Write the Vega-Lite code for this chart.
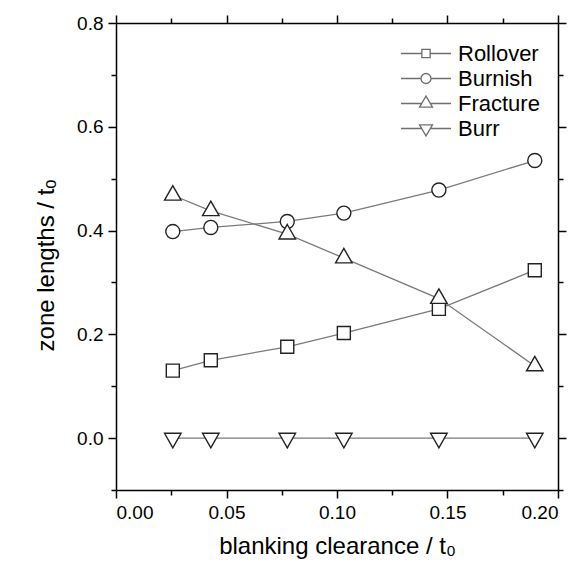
{
  "$schema": "https://vega.github.io/schema/vega-lite/v6.json",
  "width": 442,
  "height": 467,
  "autosize": {"type": "none"},
  "padding": {"left": 116, "top": 23, "right": 29, "bottom": 81},
  "background": "white",
  "config": {
    "view": {"stroke": null},
    "font": "Liberation Sans",
    "axis": {
      "grid": false,
      "domainColor": "black",
      "domainWidth": 1.5,
      "tickColor": "black",
      "tickWidth": 1.5,
      "labelColor": "black",
      "labelFont": "Liberation Sans",
      "labelFontSize": 19,
      "titleFont": "Liberation Sans",
      "titleFontSize": 24,
      "titleFontWeight": "normal",
      "titleColor": "black"
    }
  },
  "data": {
    "values": [
      {"series": "Rollover", "x": 0.0257, "y": 0.130},
      {"series": "Rollover", "x": 0.0429, "y": 0.150},
      {"series": "Rollover", "x": 0.0775, "y": 0.176},
      {"series": "Rollover", "x": 0.1031, "y": 0.2025},
      {"series": "Rollover", "x": 0.1461, "y": 0.249},
      {"series": "Rollover", "x": 0.1895, "y": 0.3236},
      {"series": "Burnish", "x": 0.0257, "y": 0.398},
      {"series": "Burnish", "x": 0.0429, "y": 0.406},
      {"series": "Burnish", "x": 0.0775, "y": 0.4175},
      {"series": "Burnish", "x": 0.1031, "y": 0.4336},
      {"series": "Burnish", "x": 0.1461, "y": 0.478},
      {"series": "Burnish", "x": 0.1895, "y": 0.535},
      {"series": "Fracture", "x": 0.0257, "y": 0.468},
      {"series": "Fracture", "x": 0.0429, "y": 0.438},
      {"series": "Fracture", "x": 0.0775, "y": 0.393},
      {"series": "Fracture", "x": 0.1031, "y": 0.347},
      {"series": "Fracture", "x": 0.1461, "y": 0.269},
      {"series": "Fracture", "x": 0.1895, "y": 0.139},
      {"series": "Burr", "x": 0.0257, "y": 0},
      {"series": "Burr", "x": 0.0429, "y": 0},
      {"series": "Burr", "x": 0.0775, "y": 0},
      {"series": "Burr", "x": 0.1031, "y": 0},
      {"series": "Burr", "x": 0.1461, "y": 0},
      {"series": "Burr", "x": 0.1895, "y": 0}
    ]
  },
  "layer": [
    {
      "mark": {"type": "line", "color": "#7a7a7a", "strokeWidth": 1.3},
      "encoding": {
        "x": {
          "field": "x", "type": "quantitative",
          "scale": {"domain": [0, 0.2], "nice": false, "zero": false},
          "axis": {"orient": "bottom", "values": [0, 0.05, 0.1, 0.15, 0.2], "format": ".2f", "tickSize": 8, "labelPadding": 5, "title": "blanking clearance / t₀", "titlePadding": 12}
        },
        "y": {
          "field": "y", "type": "quantitative",
          "scale": {"domain": [-0.1, 0.8], "nice": false, "zero": false},
          "axis": {"orient": "left", "values": [0, 0.2, 0.4, 0.6, 0.8], "format": ".1f", "tickSize": 8, "labelPadding": 5, "title": "zone lengths / tₒ", "titlePadding": 18, "titleY": 242}
        },
        "detail": {"field": "series"}
      }
    },
    {
      "mark": {"type": "point", "filled": true, "fill": "white", "stroke": "#222", "strokeWidth": 1.4, "size": 169, "opacity": 1},
      "encoding": {
        "x": {"field": "x", "type": "quantitative", "axis": {"orient": "bottom", "values": [0.025, 0.075, 0.125, 0.175], "tickSize": 5, "labels": false, "domain": false, "title": null}},
        "y": {"field": "y", "type": "quantitative", "axis": {"orient": "left", "values": [-0.1, 0.1, 0.3, 0.5, 0.7], "tickSize": 5, "labels": false, "domain": false, "title": null}},
        "shape": {
          "field": "series", "type": "nominal",
          "scale": {
            "domain": ["Rollover", "Burnish", "Fracture", "Burr"],
            "range": [
              "M-1,-1H1V1H-1Z",
              "M-1.08,0A1.08,1.08 0 1,1 1.08,0A1.08,1.08 0 1,1 -1.08,0Z",
              "M0,-1.49L1.27,0.74L-1.27,0.74Z",
              "M0,1.49L1.27,-0.74L-1.27,-0.74Z"
            ]
          },
          "legend": null
        }
      }
    },
    {
      "transform": [{"filter": "datum.y > 5"}],
      "mark": {"type": "point", "filled": false, "color": "#333", "strokeWidth": 1.3, "size": 100},
      "encoding": {
        "x": {"field": "x", "type": "quantitative", "axis": {"orient": "top", "values": [0, 0.05, 0.1, 0.15, 0.2], "tickSize": 8, "labels": false, "title": null}},
        "y": {"field": "y", "type": "quantitative", "axis": {"orient": "right", "values": [0, 0.2, 0.4, 0.6, 0.8], "tickSize": 8, "labels": false, "title": null}},
        "shape": {
          "field": "series", "type": "nominal",
          "scale": {
            "domain": ["Rollover", "Burnish", "Fracture", "Burr"],
            "range": [
              "M-5,0H-0.83M0.83,0H5M-0.83,-0.83H0.83V0.83H-0.83Z",
              "M-5,0H-1M1,0H5M-1,0A1,1 0 1,1 1,0A1,1 0 1,1 -1,0Z",
              "M-5,0H-0.87M0.87,0H5M0,-1.47L1.3,0.73L-1.3,0.73Z",
              "M-5,0H-0.87M0.87,0H5M0,1.47L1.3,-0.73L-1.3,-0.73Z"
            ]
          },
          "legend": {
            "orient": "none", "legendX": 299, "legendY": 19.5, "title": null,
            "labelFontSize": 22, "labelFont": "Liberation Sans", "labelColor": "black",
            "symbolSize": 100, "symbolStrokeWidth": 1.3, "symbolStrokeColor": "#333",
            "symbolFillColor": "transparent", "labelOffset": 21, "rowPadding": 3, "padding": 0
          }
        }
      }
    },
    {
      "transform": [{"filter": "datum.y > 5"}],
      "mark": {"type": "point", "filled": false, "color": "#333"},
      "encoding": {
        "x": {"field": "x", "type": "quantitative", "axis": {"orient": "top", "values": [0.025, 0.075, 0.125, 0.175], "tickSize": 5, "labels": false, "domain": false, "title": null}},
        "y": {"field": "y", "type": "quantitative", "axis": {"orient": "right", "values": [-0.1, 0.1, 0.3, 0.5, 0.7], "tickSize": 5, "labels": false, "domain": false, "title": null}}
      }
    }
  ],
  "resolve": {
    "scale": {"shape": "independent"},
    "axis": {"x": "independent", "y": "independent"}
  }
}
